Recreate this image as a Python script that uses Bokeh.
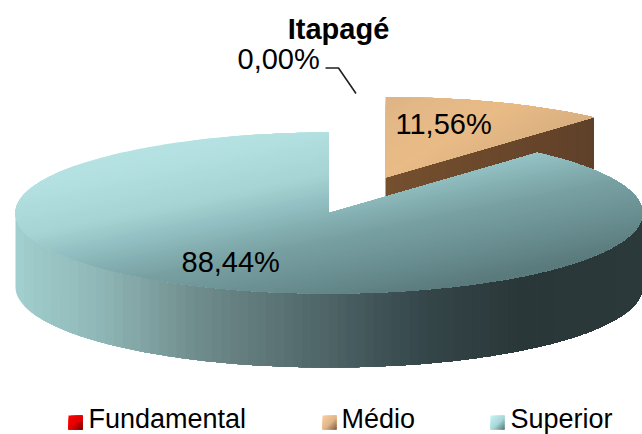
import math
from bokeh.plotting import figure
from bokeh.models import Range1d
from bokeh.core.properties import value
from bokeh.embed import file_html
from bokeh.resources import INLINE

categories = ["Fundamental", "Médio", "Superior"]
shares = [0.00, 11.56, 88.44]
title_text = "Itapagé"

FONT = "Liberation Sans"
RX, RY, DEPTH = 313.5, 80.5, 74
CENTER_MAIN = (328.5, 212.5)
CENTER_MEDIO = (385.0, 177.0)
TEXT_SHIFT = -11


def hex2rgb(h):
    return tuple(int(h[i:i + 2], 16) for i in (1, 3, 5))


def ramp(stops, t):
    if t <= stops[0][0]:
        return stops[0][1]
    for (t0, c0), (t1, c1) in zip(stops, stops[1:]):
        if t <= t1:
            f = (t - t0) / (t1 - t0)
            a, b = hex2rgb(c0), hex2rgb(c1)
            return "#%02x%02x%02x" % tuple(round(a[i] + (b[i] - a[i]) * f) for i in range(3))
    return stops[-1][1]


def clip(poly, ax, ay, t0):
    out = []
    n = len(poly)
    for i in range(n):
        p, q = poly[i], poly[(i + 1) % n]
        tp = ax * p[0] + ay * p[1] - t0
        tq = ax * q[0] + ay * q[1] - t0
        if tp >= 0:
            out.append(p)
        if (tp >= 0) != (tq >= 0):
            f = tp / (tp - tq)
            out.append((p[0] + (q[0] - p[0]) * f, p[1] + (q[1] - p[1]) * f))
    return out


def paint(p, poly, ax, ay, stops, n=48):
    ts = [ax * x + ay * y for x, y in poly]
    lo, hi = min(ts), max(ts)
    xs, ys, cols = [], [], []
    for k in range(n):
        t = lo + (hi - lo) * k / n
        part = clip(poly, ax, ay, t) if k else poly
        if len(part) < 3:
            continue
        xs.append([q[0] for q in part])
        ys.append([q[1] for q in part])
        cols.append(ramp(stops, t + (hi - lo) / (2 * n)))
    p.patches(xs, ys, fill_color=cols, line_color=None)


def rim(center, a0, a1, dy=0.0, steps=220):
    cx, cy = center
    pts = []
    for i in range(steps + 1):
        a = math.radians(a0 + (a1 - a0) * i / steps)
        pts.append((cx + RX * math.sin(a), cy - RY * math.cos(a) + dy))
    return pts


p = figure(width=642, height=434, x_range=Range1d(0, 642), y_range=Range1d(434, 0),
           x_axis_type=None, y_axis_type=None, toolbar_location=None,
           output_backend="svg", min_border=0, outline_line_color=None,
           background_fill_color="white", border_fill_color="white")
p.grid.visible = False

total = sum(shares)
cum = [0.0]
for s in shares:
    cum.append(cum[-1] + s / total * 360)
medio_a0, medio_a1 = cum[1], cum[2]
main_a0, main_a1 = cum[2], cum[3]

# Médio slice (pulled out)
apex = CENTER_MEDIO
tip = rim(CENTER_MEDIO, medio_a1, medio_a1, steps=1)[0]
cut = [apex, tip, (tip[0], tip[1] + DEPTH), (apex[0], apex[1] + DEPTH)]
paint(p, cut, 1, 0, [(385, "#74502f"), (480, "#6d492c"), (592, "#5f4029")], n=24)
face_medio = [apex] + rim(CENTER_MEDIO, medio_a0, medio_a1, steps=60)
paint(p, face_medio, 0.5, 0.87, [(270, "#dcb285"), (300, "#e3b887"), (345, "#e9bb86"), (400, "#d8ae80")], n=30)

# Superior slice: outer wall, then top face
wall = rim(CENTER_MAIN, 90, 270) + rim(CENTER_MAIN, 270, 90, dy=DEPTH)
paint(p, wall, 1, 0, [(15, "#a2cfcf"), (100, "#8fb6b6"), (200, "#6f8b8b"), (330, "#4d6366"),
                      (420, "#35474a"), (520, "#2a3739"), (642, "#2b393b")], n=70)
face_main = [CENTER_MAIN] + rim(CENTER_MAIN, main_a0, main_a1, steps=300)
paint(p, face_main, 0.2, 0.98, [(160, "#b7e3e3"), (190, "#b3e0e0"), (235, "#a6d3d3"), (265, "#8fbcbe"),
                                (300, "#78a0a3"), (345, "#668a8c"), (370, "#5a7a7c")], n=70)

# Leader line of the empty slice
p.line([325, 338, 355.5], [67.5, 67.5, 93], line_color="#202020", line_width=1.6)


def pct(v):
    return f"{v:.2f}%".replace(".", ",")


def label(x, y, s, size="27px", style="normal", align="left"):
    p.text([x], [y + TEXT_SHIFT], text=[s], text_font=value(FONT), text_font_size=value(size),
           text_font_style=value(style), text_align=value(align), text_baseline=value("alphabetic"),
           text_color="#000000")


label(338, 39, title_text, size="29px", style="bold", align="center")
label(237, 69, pct(shares[0]), size="29px")
label(395, 134, pct(shares[1]), size="29px")
label(181, 272, pct(shares[2]), size="29px")

# Legend
swatch_stops = [
    [(0, "#ff0000"), (0.55, "#e00000"), (1, "#6e0000")],
    [(0, "#f8d0a0"), (0.55, "#e0b488"), (1, "#7d5e40")],
    [(0, "#c8f4f4"), (0.55, "#a8d6d6"), (1, "#557578")],
]
legend_x = [(68, 88), (322, 341), (490, 510)]
for name, st, (sx, tx) in zip(categories, swatch_stops, legend_x):
    sq = [(sx, 415), (sx + 14, 415), (sx + 14, 429), (sx, 429)]
    t0 = sx + 415
    paint(p, sq, 1, 1, [(t0 + f * 28, c) for f, c in st], n=10)
    label(tx, 429, name)

open("out.html", "w").write(file_html(p, INLINE))
